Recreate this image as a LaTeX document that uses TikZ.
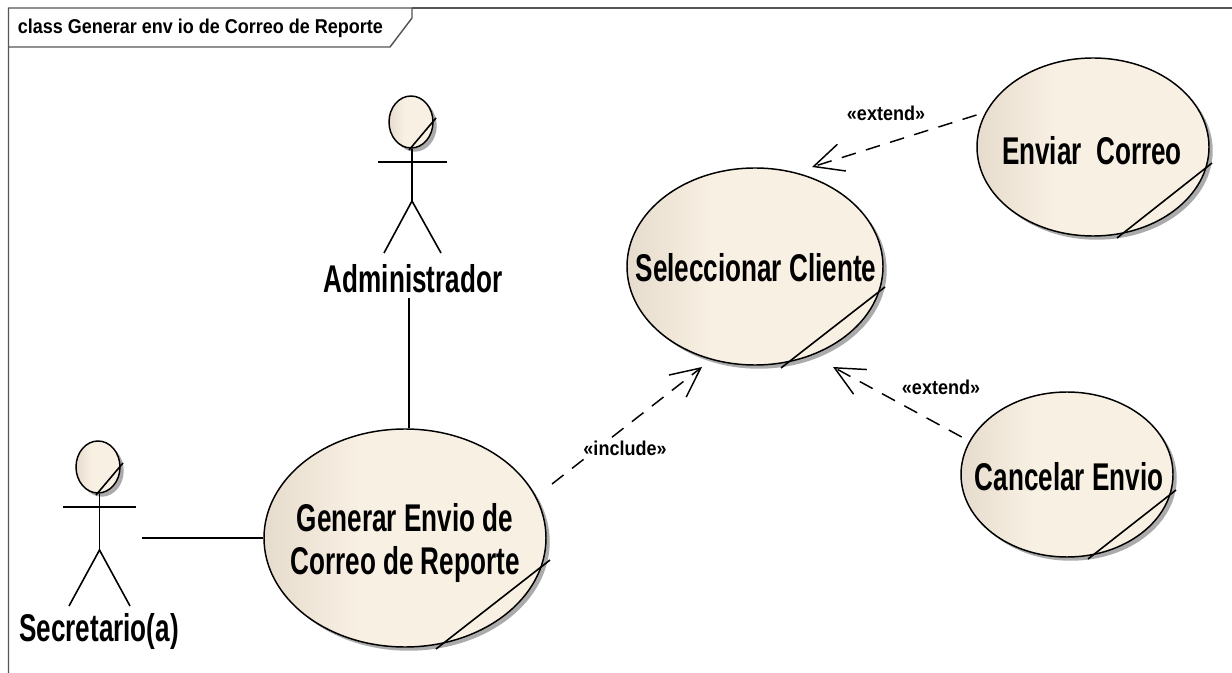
\documentclass[tikz,border=0pt]{standalone}
\usepackage{fontspec}
\setmainfont{Liberation Sans}
\usetikzlibrary{shapes.geometric,shadows,arrows.meta}
\definecolor{ucdark}{HTML}{E6DCCD}
\definecolor{uclight}{HTML}{F8F0E3}
\definecolor{shadowgrey}{HTML}{ABABAB}
\definecolor{framegrey}{HTML}{555555}
\pgfdeclarehorizontalshading{usecasefill}{100bp}{color(0bp)=(ucdark); color(25bp)=(ucdark); color(42bp)=(uclight); color(100bp)=(uclight)}
\newcommand{\bigtxt}[1]{\scalebox{0.675}[1]{\fontsize{29}{33}\selectfont\bfseries #1}}
\newcommand{\smalltxt}[1]{\scalebox{0.9}[1]{\fontsize{15}{17}\selectfont\bfseries #1}}
\newcommand{\titletxt}[1]{\scalebox{0.9}[1]{\fontsize{15}{17}\selectfont\bfseries #1}}
\tikzset{
  x=0.75pt,y=-0.75pt,
  usecase/.style 2 args={ellipse,draw=black,line width=1.1pt,inner sep=0pt,
    minimum width=#1*0.75pt,minimum height=#2*0.75pt,shading=usecasefill,shading angle=0,
    drop shadow={shadow xshift=2.8pt,shadow yshift=-2.8pt,fill=shadowgrey,opacity=1}},
  slash/.style={line width=1.2pt,black},
  limb/.style={line width=1.2pt,black},
  assoc/.style={line width=1.2pt,black},
  depend/.style={line width=1.1pt,black,dash pattern=on 11pt off 8pt,-{Straight Barb[length=22pt,width=21pt,line width=1.1pt]}},
  lab/.style={inner sep=0pt,text=black,align=center},
  deplab/.style={lab,fill=white,inner sep=1pt},
  framel/.style={line width=1.1pt,framegrey},
}
\begin{document}
\begin{tikzpicture}
\useasboundingbox (0,0) rectangle (1232,673);
\fill[white] (0,0) rectangle (1232,673);
% frame
\draw[framel] (1232,8) -- (412,8);
\draw[framel] (8.5,673) -- (8.5,8) -- (412,8) -- (412,18) -- (390,47) -- (8.5,47);
\node[lab,anchor=west] (title) at (17.5,28) {\titletxt{class Generar env io de Correo de Reporte}};
% use cases
\node[usecase={282}{218}] (generar) at (405,538) {};
\node[usecase={256}{197}] (seleccionar) at (755,266.5) {};
\node[usecase={232}{178}] (enviar) at (1093,147) {};
\node[usecase={212}{165}] (cancelar) at (1067,474.5) {};
\draw[slash] (436,649) -- (550,560);
\draw[slash] (781,368) -- (885,287);
\draw[slash] (1117,238) -- (1212,163);
\draw[slash] (1088,559) -- (1176,490);
\node[lab] (generarT) at (405,543) {\bigtxt{Generar Envio de}\\[10pt]\bigtxt{Correo de Reporte}};
\node[lab] (seleccionarT) at (756,268) {\bigtxt{Seleccionar Cliente}};
\node[lab] (enviarT) at (1092,151) {\bigtxt{Enviar\ \ Correo}};
\node[lab] (cancelarT) at (1069,477) {\bigtxt{Cancelar Envio}};
% actor Administrador
\node[usecase={44}{52}] (adminHead) at (411,122) {};
\draw[slash] (409,150) -- (436,118);
\draw[limb] (378,162) -- (447,162);
\coordinate (adminHip) at (412,201);
\draw[limb] (adminHead.south -| adminHip) -- (adminHip);
\draw[limb] (384,253) -- (adminHip) -- (441,253);
\node[lab] (adminL) at (413,279) {\bigtxt{Administrador}};
% actor Secretario
\node[usecase={44}{52}] (secHead) at (98,467) {};
\draw[slash] (96,495) -- (123,463);
\draw[limb] (63,507) -- (136,507);
\coordinate (secHip) at (99.5,550);
\draw[limb] (secHead.south -| secHip) -- (secHip);
\draw[limb] (69,606) -- (secHip) -- (130,606);
\node[lab] (secL) at (99,632) {\bigtxt{Secretario(a)}};
% connectors
\coordinate (adminEnd) at (409,298);
\coordinate (secEnd) at (142,538);
\draw[assoc] (adminEnd) -- (generar.north -| adminEnd);
\draw[assoc] (secEnd) -- (generar.west);
\coordinate (incStart) at (552,484);
\coordinate (incEnd) at (702,367);
\coordinate (ext1Start) at (976.5,115);
\coordinate (ext1End) at (812,167);
\coordinate (ext2Start) at (961.7,437);
\coordinate (ext2End) at (833,367);
\draw[depend] (incStart) -- (incEnd);
\draw[depend] (ext1Start) -- (ext1End);
\draw[depend] (ext2Start) -- (ext2End);
\node[deplab] (incL) at (625,448) {\smalltxt{«include»}};
\node[deplab] (ext1L) at (886,113) {\smalltxt{«extend»}};
\node[deplab] (ext2L) at (941,387) {\smalltxt{«extend»}};
\end{tikzpicture}
\end{document}
